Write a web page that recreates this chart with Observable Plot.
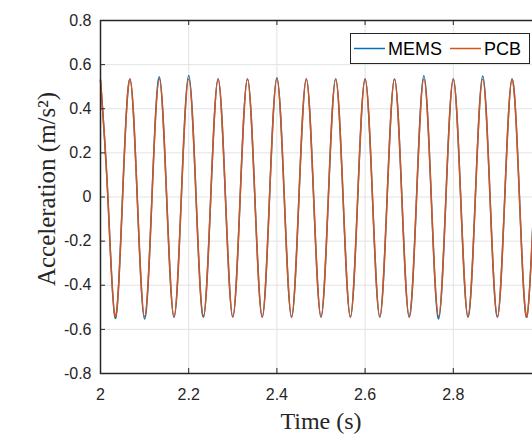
<!DOCTYPE html>
<html><head><meta charset="utf-8">
<script src="https://cdn.jsdelivr.net/npm/d3@7"></script>
<script src="https://cdn.jsdelivr.net/npm/@observablehq/plot@0.6"></script>
<style>html,body{margin:0;padding:0;overflow:hidden;background:#fff;width:532px;height:435px}
#chart{width:532px;height:435px;overflow:hidden}
#chart svg{max-width:none !important;width:560px !important;height:435px !important}</style>
</head><body><div id="chart"></div>
<script>
// Time samples (s): extrema and zero crossings
const time = [
  2.0000, 2.0167, 2.0333, 2.0500, 2.0667, 2.0833, 2.1000, 2.1167,
  2.1333, 2.1500, 2.1667, 2.1833, 2.2000, 2.2167, 2.2333, 2.2500,
  2.2667, 2.2833, 2.3000, 2.3167, 2.3333, 2.3500, 2.3667, 2.3833,
  2.4000, 2.4167, 2.4333, 2.4500, 2.4667, 2.4833, 2.5000, 2.5167,
  2.5333, 2.5500, 2.5667, 2.5833, 2.6000, 2.6167, 2.6333, 2.6500,
  2.6667, 2.6833, 2.7000, 2.7167, 2.7333, 2.7500, 2.7667, 2.7833,
  2.8000, 2.8167, 2.8333, 2.8500, 2.8667, 2.8833, 2.9000, 2.9167,
  2.9333, 2.9500, 2.9667, 2.9833, 3.0000
];
const mems = [
  0.530, 0, -0.550, 0, 0.535, 0, -0.553, 0,
  0.545, 0, -0.545, 0, 0.551, 0, -0.545, 0,
  0.535, 0, -0.545, 0, 0.535, 0, -0.545, 0,
  0.540, 0, -0.545, 0, 0.535, 0, -0.545, 0,
  0.535, 0, -0.545, 0, 0.535, 0, -0.545, 0,
  0.535, 0, -0.545, 0, 0.550, 0, -0.553, 0,
  0.535, 0, -0.545, 0, 0.548, 0, -0.545, 0,
  0.535, 0, -0.545, 0, 0.535
];
const pcb = [
  0.530, 0, -0.543, 0, 0.535, 0, -0.543, 0,
  0.535, 0, -0.543, 0, 0.535, 0, -0.543, 0,
  0.535, 0, -0.543, 0, 0.535, 0, -0.543, 0,
  0.535, 0, -0.543, 0, 0.535, 0, -0.543, 0,
  0.535, 0, -0.543, 0, 0.535, 0, -0.543, 0,
  0.535, 0, -0.543, 0, 0.535, 0, -0.543, 0,
  0.535, 0, -0.543, 0, 0.535, 0, -0.543, 0,
  0.535, 0, -0.543, 0, 0.535
];
const xTicks = [2, 2.2, 2.4, 2.6, 2.8, 3];
const xTickLabels = [2, 2.2, 2.4, 2.6, 2.8];
const yTicks = [-0.8, -0.6, -0.4, -0.2, 0, 0.2, 0.4, 0.6, 0.8];
const seriesNames = ["MEMS", "PCB"];
const seriesColors = ["#0072BD", "#D95319"];
const xLabel = "Time (s)";
const yLabel = "Acceleration (m/s\u00B2)";

const memsRows = time.map((t, i) => ({t, v: mems[i]}));
const pcbRows = time.map((t, i) => ({t, v: pcb[i]}));

const axisColor = "#262626";
const gridColor = "#e3e3e3";

const chart = Plot.plot({
  width: 560,
  height: 435,
  marginLeft: 100,
  marginRight: 19,
  marginTop: 20,
  marginBottom: 62,
  style: {fontFamily: "Liberation Sans", fontSize: "16px", color: axisColor, background: "#fff", overflow: "visible", maxWidth: "none"},
  x: {domain: [2, 3]},
  y: {domain: [-0.8, 0.8]},
  marks: [
    Plot.gridX(xTicks, {stroke: gridColor, strokeOpacity: 1}),
    Plot.gridY(yTicks, {stroke: gridColor, strokeOpacity: 1}),
    Plot.line(memsRows, {x: "t", y: "v", stroke: seriesColors[0], strokeWidth: 1.5, curve: "natural"}),
    Plot.line(pcbRows, {x: "t", y: "v", stroke: seriesColors[1], strokeWidth: 1.5, curve: "natural"}),
    // inward ticks (MATLAB style)
    Plot.ruleX(xTicks, {x: d => d, insetTop: 348, stroke: axisColor}),
    Plot.ruleX(xTicks, {x: d => d, insetBottom: 348, stroke: axisColor}),
    Plot.ruleY(yTicks, {y: d => d, insetRight: 436, stroke: axisColor}),
    Plot.frame({stroke: axisColor, strokeWidth: 1.5}),
    Plot.axisX(xTickLabels, {tickSize: 0, tickPadding: 15, tickFormat: d => String(d), fontSize: 16, fontFamily: "Liberation Sans", color: axisColor, label: null}),
    Plot.axisY(yTicks, {tickSize: 0, tickPadding: 9, tickFormat: d => String(d), fontSize: 16, fontFamily: "Liberation Sans", color: axisColor, label: null}),
    Plot.text([xLabel], {frameAnchor: "bottom", dy: 55, lineAnchor: "bottom", fontSize: 24, fontFamily: "Liberation Serif", fill: axisColor}),
    Plot.text([yLabel], {frameAnchor: "left", dx: -46, dy: -8, rotate: -90, lineAnchor: "bottom", textAnchor: "middle", fontSize: 25, fontFamily: "Liberation Serif", fill: axisColor})
  ]
});
document.getElementById("chart").appendChild(chart);

// Legend box (MATLAB-style, inside the axes, top right)
const svg = d3.select(chart);
const lg = svg.append("g").attr("font-family", "Liberation Sans").attr("font-size", 18).attr("text-anchor", "start");
lg.append("rect").attr("x", 350.5).attr("y", 33.5).attr("width", 179).attr("height", 30)
  .attr("fill", "#fff").attr("stroke", axisColor).attr("stroke-width", 1);
const legendX = [354, 450];
seriesNames.forEach((name, i) => {
  lg.append("line").attr("x1", legendX[i]).attr("x2", legendX[i] + 31).attr("y1", 48.5).attr("y2", 48.5)
    .attr("stroke", seriesColors[i]).attr("stroke-width", 1.5);
  lg.append("text").attr("x", legendX[i] + 34).attr("y", 55).attr("text-anchor", "start").attr("fill", "#000").text(name);
});
</script>
</body></html>
